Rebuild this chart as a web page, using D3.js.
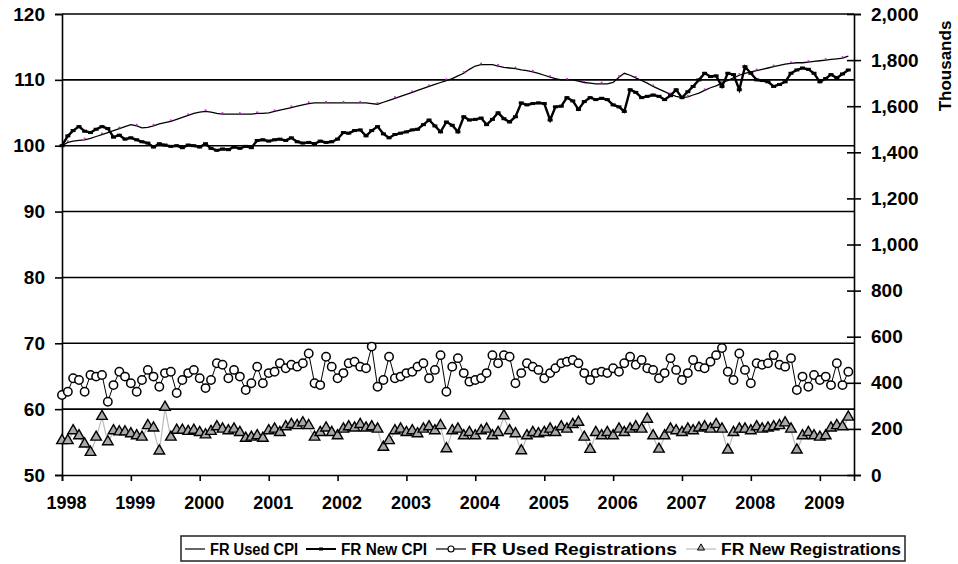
<!DOCTYPE html>
<html>
<head>
<meta charset="utf-8">
<script src="https://cdn.jsdelivr.net/npm/d3@7"></script>
<style>
  body { margin: 0; background: #fff; }
  text { font-family: "Liberation Sans", Arial, sans-serif; font-weight: bold; }
</style>
</head>
<body>
<div id="chart"></div>
<script>
// monthly, Jan 1998 .. Jun 2009
var usedCPI = [
  100.0, 100.5, 100.7, 100.8, 100.9, 101.1, 101.4, 101.7, 102.0, 102.3, 102.6, 102.9,
  103.2, 103.0, 102.7, 102.8, 103.0, 103.3, 103.5, 103.7, 104.0, 104.3, 104.6, 104.9,
  105.1, 105.2, 105.1, 104.9, 104.8, 104.8, 104.8, 104.8, 104.8, 104.8, 104.9, 104.9,
  105.0, 105.2, 105.4, 105.6, 105.8, 106.0, 106.2, 106.4, 106.5, 106.5, 106.5, 106.5,
  106.5, 106.5, 106.5, 106.5, 106.5, 106.5, 106.4, 106.3, 106.6, 106.9, 107.2, 107.5,
  107.8, 108.1, 108.4, 108.7, 109.0, 109.3, 109.6, 109.9, 110.2, 110.6, 111.0, 111.6,
  112.1, 112.3, 112.3, 112.3, 112.1, 111.9, 111.8, 111.7, 111.5, 111.4, 111.2, 111.0,
  110.7, 110.4, 110.2, 110.0, 110.0, 110.0, 109.8, 109.6, 109.5, 109.4, 109.4, 109.4,
  109.6, 110.4, 111.0, 110.7, 110.3, 109.9, 109.5, 109.0, 108.6, 108.2, 107.8, 107.5,
  107.3, 107.4, 107.7, 108.0, 108.4, 108.8, 109.1, 109.5, 109.9, 110.3, 110.7, 111.0,
  111.2, 111.4, 111.6, 111.8, 112.0, 112.2, 112.4, 112.5, 112.6, 112.6, 112.7, 112.8,
  112.9, 113.0, 113.1, 113.2, 113.3, 113.6
]
var newCPI = [
  100.0, 101.5, 102.3, 102.9, 102.2, 102.0, 102.5, 102.9, 102.6, 101.3, 101.6, 101.0,
  101.2, 100.9, 100.6, 100.4, 99.8, 100.3, 100.1, 99.9, 100.0, 99.7, 100.1, 100.0,
  99.8, 100.3, 99.6, 99.3, 99.5, 99.4, 99.8, 99.6, 99.9, 99.7, 100.8, 100.9,
  100.7, 100.9, 101.0, 100.8, 101.2, 100.6, 100.4, 100.5, 100.3, 100.7, 100.5, 100.6,
  101.0, 102.0, 101.9, 102.3, 102.4, 101.5, 102.3, 102.9, 101.8, 101.2, 101.7, 101.9,
  102.1, 102.4, 102.5, 103.2, 103.9, 103.0, 102.1, 103.6, 103.1, 102.1, 104.4, 103.9,
  104.0, 104.2, 103.2, 104.0, 105.0, 104.1, 103.6, 104.4, 106.5, 106.2, 106.4, 106.5,
  106.4, 103.9, 105.9, 106.0, 107.3, 106.8, 105.5, 106.7, 107.3, 107.0, 107.2, 107.0,
  106.2, 105.9, 105.2, 108.5, 108.1, 107.3, 107.5, 107.7, 107.5, 107.0, 107.6, 108.5,
  107.3, 108.2, 109.0, 110.0, 111.0, 110.5, 110.6, 109.0, 111.0, 110.8, 108.5, 112.0,
  111.0, 110.0, 109.9, 109.7, 109.0, 109.3, 109.7, 111.0, 111.5, 111.8, 111.6, 111.0,
  109.7, 110.2, 110.8, 110.3, 110.9, 111.5
]
// thousands
var usedReg = [
  347, 361, 420, 412, 361, 434, 427, 434, 318, 390, 448, 427,
  398, 361, 412, 456, 427, 383, 442, 448, 356, 412, 442, 456,
  420, 377, 412, 485, 478, 420, 456, 427, 369, 398, 470, 398,
  442, 448, 485, 463, 478, 470, 485, 527, 398, 390, 513, 470,
  420, 442, 485, 491, 470, 463, 557, 383, 412, 513, 420, 427,
  442, 448, 470, 485, 420, 456, 520, 361, 470, 507, 442, 405,
  412, 420, 442, 520, 485, 520, 513, 398, 442, 485, 470, 456,
  420, 442, 463, 485, 491, 499, 485, 442, 412, 442, 448, 442,
  463, 448, 485, 513, 478, 499, 463, 456, 420, 442, 507, 456,
  412, 442, 499, 470, 463, 491, 520, 551, 448, 412, 527, 456,
  398, 485, 478, 485, 520, 478, 470, 507, 369, 427, 383, 434,
  412, 427, 390, 485, 390, 448
]
var newReg = [
  145, 145, 188, 166, 130, 94, 160, 250, 140, 188, 183, 183,
  175, 166, 160, 210, 200, 100, 290, 160, 190, 190, 185, 190,
  180, 170, 185, 205, 195, 188, 195, 180, 155, 160, 166, 155,
  188, 195, 180, 205, 215, 210, 222, 210, 160, 180, 200, 180,
  166, 195, 205, 200, 215, 200, 205, 195, 116, 145, 188, 195,
  180, 188, 175, 195, 205, 188, 210, 110, 188, 195, 166, 180,
  166, 188, 195, 166, 180, 253, 188, 175, 101, 166, 180, 175,
  180, 195, 180, 205, 195, 215, 225, 160, 107, 180, 166, 180,
  166, 195, 180, 195, 205, 195, 238, 166, 108, 166, 195, 188,
  180, 195, 188, 200, 205, 195, 215, 195, 104, 180, 195, 195,
  188, 205, 195, 200, 205, 210, 222, 195, 104, 166, 180, 166,
  160, 166, 200, 210, 205, 247
]
var years = [1998, 1999, 2000, 2001, 2002, 2003, 2004, 2005, 2006, 2007, 2008, 2009]
var leftTicks = [50, 60, 70, 80, 90, 100, 110, 120]
var rightTicks = [0, 200, 400, 600, 800, 1000, 1200, 1400, 1600, 1800, 2000]
var seriesNames = ["FR Used CPI", "FR New CPI", "FR Used Registrations", "FR New Registrations"]

var dates = usedCPI.map((d, i) => new Date(1998, i, 1))

var svg = d3.select("#chart")
    .append("svg")
    .attr("width", 958)
    .attr("height", 564)

var x = d3.scaleTime()
    .domain([new Date(1998, 0, 1), new Date(2009, 6, 1)])
    .range([62, 854])
var yL = d3.scaleLinear().domain([50, 120]).range([475, 14])
var yR = d3.scaleLinear().domain([0, 2000]).range([475, 14])

// gridlines
svg.append("g")
    .selectAll("line")
    .data(leftTicks.slice(1))
    .join("line")
    .attr("x1", 62)
    .attr("x2", 854)
    .attr("y1", d => yL(d))
    .attr("y2", d => yL(d))
    .style("stroke", "#000")
    .style("stroke-width", 1.6)

// left axis
var gL = svg.append("g")
    .attr("transform", "translate(62,0)")
    .call(d3.axisLeft(yL).tickValues(leftTicks).tickSize(7).tickPadding(10))
gL.select(".domain").style("stroke-width", 1.6)
gL.selectAll(".tick line").style("stroke-width", 1.6)
gL.selectAll("text").style("font-size", "19px").attr("fill", "#000")

// right axis, ticks cross the line
var gR = svg.append("g")
    .attr("transform", "translate(854,0)")
    .call(d3.axisRight(yR).tickValues(rightTicks).tickFormat(d3.format(",")).tickSize(7).tickPadding(10))
gR.select(".domain").style("stroke-width", 1.6)
gR.selectAll(".tick line").attr("x1", -7).style("stroke-width", 1.6)
gR.selectAll("text").style("font-size", "19px").attr("fill", "#000")

svg.append("text")
    .attr("transform", "translate(951,66) rotate(-90)")
    .attr("text-anchor", "middle")
    .style("font-size", "17px")
    .text("Thousands")

// x axis
var gX = svg.append("g")
    .attr("transform", "translate(0,475)")
    .call(d3.axisBottom(x)
        .tickValues(years.map(y => new Date(y, 0, 1)))
        .tickFormat(d3.timeFormat("%Y"))
        .tickSize(6).tickPadding(15))
gX.select(".domain").style("stroke-width", 1.6)
gX.selectAll(".tick line").style("stroke-width", 1.6)
gX.selectAll("text").style("font-size", "18px").attr("fill", "#000").attr("dx", 4)

// series
var lineL = d3.line().x((d, i) => x(dates[i])).y(d => yL(d))
var lineR = d3.line().x((d, i) => x(dates[i])).y(d => yR(d))

// new registrations
svg.append("path")
    .datum(newReg)
    .attr("d", lineR)
    .style("fill", "none")
    .style("stroke", "#bbb")
    .style("stroke-width", 1.2)

var tri = d3.symbol().type(d3.symbolTriangle).size(48)
svg.append("g")
    .selectAll("path")
    .data(newReg)
    .join("path")
    .attr("d", tri)
    .attr("transform", (d, i) => "translate(" + x(dates[i]) + "," + (yR(d) - 1) + ")")
    .style("fill", "#a8a8a8")
    .style("stroke", "#000")
    .style("stroke-width", 1.4)

// used registrations
svg.append("path")
    .datum(usedReg)
    .attr("d", lineR)
    .style("fill", "none")
    .style("stroke", "#000")
    .style("stroke-width", 1)

svg.append("g")
    .selectAll("circle")
    .data(usedReg)
    .join("circle")
    .attr("cx", (d, i) => x(dates[i]))
    .attr("cy", d => yR(d))
    .attr("r", 4.2)
    .style("fill", "#fff")
    .style("stroke", "#000")
    .style("stroke-width", 1.5)

// used CPI: thin line with magenta dots peeking out
svg.append("path")
    .datum(usedCPI)
    .attr("d", lineL)
    .style("fill", "none")
    .style("stroke", "#000")
    .style("stroke-width", 1.3)

svg.append("g")
    .selectAll("circle")
    .data(usedCPI)
    .join("circle")
    .filter((d, i) => i % 3 == 1)
    .attr("cx", (d, i) => x(dates[i * 3 + 1]))
    .attr("cy", d => yL(d) - 1.2)
    .attr("r", 1)
    .style("fill", "#e020e0")

// new CPI: thick line with small dash markers
svg.append("path")
    .datum(newCPI)
    .attr("d", lineL)
    .style("fill", "none")
    .style("stroke", "#000")
    .style("stroke-width", 2.4)

svg.append("g")
    .selectAll("rect")
    .data(newCPI)
    .join("rect")
    .attr("x", (d, i) => x(dates[i]) - 2.5)
    .attr("y", d => yL(d) - 1.5)
    .attr("width", 5)
    .attr("height", 3)
    .style("fill", "#000")

// legend
var legend = svg.append("g")
svg.append("rect")
    .attr("x", 181)
    .attr("y", 536)
    .attr("width", 724)
    .attr("height", 25)
    .style("fill", "none")
    .style("stroke", "#222")
    .style("stroke-width", 1.5)

var legX = [185, 306, 436, 686]
var legLen = [88, 86, 206, 180]
seriesNames.forEach((name, i) => {
    var lx = legX[i]
    var sw = i == 0 ? 20 : 30
    legend.append("line")
        .attr("x1", lx)
        .attr("x2", lx + sw)
        .attr("y1", 549)
        .attr("y2", 549)
        .style("stroke", i == 3 ? "#bbb" : "#000")
        .style("stroke-width", i == 1 ? 2 : 1.2)
    if (i == 1) {
        legend.append("rect").attr("x", lx + 13).attr("y", 547.5).attr("width", 4).attr("height", 3).style("fill", "#000")
    }
    if (i == 2) {
        legend.append("circle").attr("cx", lx + 15).attr("cy", 549).attr("r", 3)
            .style("fill", "#fff").style("stroke", "#000").style("stroke-width", 1.1)
    }
    if (i == 3) {
        legend.append("path").attr("d", d3.symbol().type(d3.symbolTriangle).size(22))
            .attr("transform", "translate(" + (lx + 15) + ",548)")
            .style("fill", "#a8a8a8").style("stroke", "#000").style("stroke-width", 1)
    }
    legend.append("text")
        .attr("x", lx + sw + 5)
        .attr("y", 555)
        .attr("textLength", legLen[i])
        .attr("lengthAdjust", "spacingAndGlyphs")
        .style("font-size", "16px")
        .text(name)
})
</script>
</body>
</html>
